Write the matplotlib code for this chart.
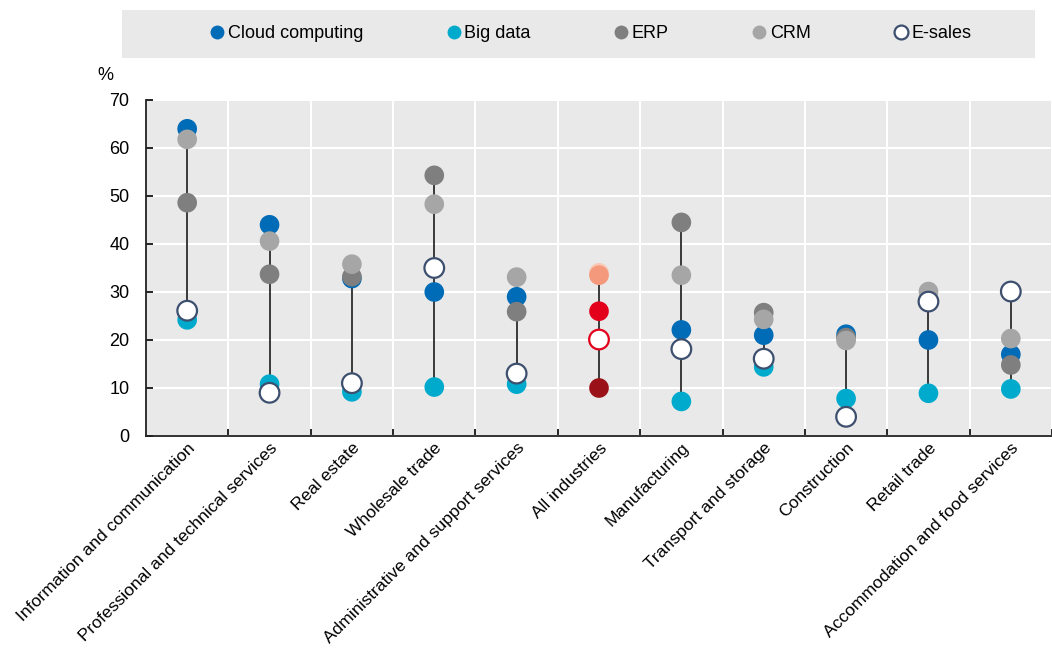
import matplotlib.pyplot as plt
from matplotlib.patches import Rectangle
from matplotlib.lines import Line2D
import numpy as np

plt.rcParams['font.family'] = ['Liberation Sans', 'DejaVu Sans']

industries = ["Information and communication", "Professional and technical services",
              "Real estate", "Wholesale trade", "Administrative and support services",
              "All industries", "Manufacturing", "Transport and storage",
              "Construction", "Retail trade", "Accommodation and food services"]
cloud = [64.0, 44.0, 32.8, 30.0, 29.0, 26.0, 22.1, 21.0, 21.2, 20.0, 17.0]
bigdata = [24.2, 10.8, 9.2, 10.2, 10.8, 10.0, 7.2, 14.4, 7.8, 8.9, 9.8]
erp = [48.6, 33.7, 33.2, 54.3, 25.9, 34.0, 44.5, 25.7, 20.5, 28.5, 14.8]
crm = [61.8, 40.6, 35.8, 48.3, 33.1, 33.5, 33.5, 24.3, 19.9, 30.1, 20.3]
esales = [26.1, 9.0, 11.0, 35.0, 13.0, 20.1, 18.1, 16.1, 4.0, 28.0, 30.1]

# draw order bottom -> top; last colour is the one used for "All industries"
series = [("Big data", bigdata, "#00AACC", "#9B1118"),
          ("Cloud computing", cloud, "#006BB6", "#E3001B"),
          ("ERP", erp, "#7F7F7F", "#F9C9B5"),
          ("CRM", crm, "#A6A6A6", "#F4997B"),
          ("E-sales", esales, "white", "white")]
avg_idx = industries.index("All industries")

fig = plt.figure(figsize=(10.52, 6.49), dpi=100)
ax = fig.add_axes([146/1052, 1-436/649, 1-146/1052, (436-100)/649])
ax.set_facecolor("#E9E9E9")

x = np.arange(len(industries))
lo = np.min([cloud, bigdata, erp, crm, esales], axis=0)
hi = np.max([cloud, bigdata, erp, crm, esales], axis=0)
ax.vlines(x, lo, hi, color="#3A3A3A", lw=1.4, zorder=2)

for name, vals, col, avgcol in series:
    cols = [col] * len(vals)
    edges = [col] * len(vals)
    if name == "E-sales":
        edges = ["#3D4F6E"] * len(vals)
        edges[avg_idx] = "#E3001B"
    else:
        cols[avg_idx] = avgcol
        edges[avg_idx] = avgcol
    ax.scatter(x, vals, s=200, c=cols, edgecolors=edges,
               linewidths=1.6 if name == "E-sales" else 0, zorder=3)

ax.set_xlim(-0.5, len(industries) - 0.5)
ax.set_ylim(0, 70)
ax.set_yticks(range(0, 71, 10))
ax.set_xticks(x)
ax.set_xticklabels(industries, rotation=45, ha="right", rotation_mode="anchor")
ax.set_xticks(np.arange(0.5, len(industries), 1), minor=True)
ax.tick_params(axis="x", which="major", length=0, pad=3, labelsize=12.6)
ax.tick_params(axis="x", which="minor", direction="in", length=5, width=1.2)
ax.tick_params(axis="y", direction="in", length=5, width=1.2, labelsize=13, pad=12)
ax.grid(axis="x", which="minor", color="white", lw=1.5)
ax.grid(axis="y", which="major", color="white", lw=1.5)
ax.set_axisbelow(True)
for s in ["top", "right"]:
    ax.spines[s].set_visible(False)
for s in ["left", "bottom"]:
    ax.spines[s].set_linewidth(1.3)
    ax.spines[s].set_color("#222222")

fig.text(97/1052, 1-75/649, "%", fontsize=13, ha="left", va="center")

# legend band
fig.patches.append(Rectangle((122/1052, 1-58/649), (1035-122)/1052, 48/649,
                             transform=fig.transFigure, facecolor="#E9E9E9",
                             edgecolor="none", zorder=0))
handles = []
for name, col, ec in [("Cloud computing", "#006BB6", "#006BB6"),
                      ("Big data", "#00AACC", "#00AACC"),
                      ("ERP", "#7F7F7F", "#7F7F7F"),
                      ("CRM", "#A6A6A6", "#A6A6A6"),
                      ("E-sales", "white", "#3D4F6E")]:
    handles.append(Line2D([], [], ls="none", marker="o", markersize=10,
                          markerfacecolor=col, markeredgecolor=ec,
                          markeredgewidth=1.6 if name == "E-sales" else 0, label=name))
fig.legend(handles=handles, loc="center", bbox_to_anchor=(590/1052, 1-34/649),
           ncol=5, frameon=False, fontsize=13, handletextpad=0.1,
           columnspacing=4.5, handlelength=1.0)

fig.savefig("out.png", dpi=100)
